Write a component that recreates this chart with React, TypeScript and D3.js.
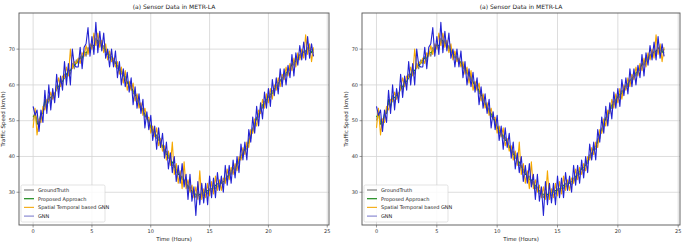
import React from "react";
import * as d3 from "d3";

// time step: 10 minutes, 6 points per hour
const STEP_HOURS = 1 / 6;

const groundTruth = [
  50, 52.5, 50, 48.5, 51, 53,
  55, 53.5, 57, 55, 58, 56.5,
  60, 58.5, 61.5, 60, 63, 62,
  64.5, 63, 66, 64.5, 67, 66,
  68, 66.5, 69.5, 68, 70.5, 69,
  71.5, 70, 73, 71.5, 72.5, 70.5,
  71, 69, 69.5, 67.5, 68, 66,
  66.5, 64.5, 65, 63, 63.5, 61.5,
  61, 59.5, 60, 57.5, 58, 56,
  55, 53, 53.5, 51, 51.5, 49,
  48.5, 46.5, 47, 45, 45.5, 43.5,
  43, 41, 41.5, 39.5, 39.5, 37.5,
  37.5, 35.5, 36, 34, 34.5, 32.5,
  33, 31, 31.5, 29.5, 30.5, 28.5,
  30, 28.5, 30, 29, 31, 29.5,
  31, 30, 32, 31, 32.5, 31.5,
  33, 32, 34, 33.5, 35.5, 35,
  37, 36, 38.5, 38, 40.5, 40,
  42.5, 42, 45, 45, 48, 48.5,
  51, 51, 53.5, 53.5, 55.5, 55,
  57, 56.5, 58.5, 58, 60, 59.5,
  61.5, 61, 62.5, 62.5, 64.5, 64,
  66, 65.5, 67.5, 67, 68.5, 68,
  69.5, 68.5, 70.5, 69.5, 70, 69,
];

const proposed = [
  51, 52, 49, 49.5, 52, 52,
  56, 54, 56, 56.5, 57, 57.5,
  59, 59.5, 61, 61, 62, 63,
  64, 64, 65, 65.5, 66, 67,
  67.5, 67.5, 69, 69, 69.5, 70,
  71, 71, 72, 72.5, 71.5, 71.5,
  70, 70, 68.5, 68.5, 67, 67,
  66, 65.5, 64, 64, 62.5, 62.5,
  60.5, 60.5, 59, 58.5, 57, 57,
  54.5, 54, 52.5, 52, 50.5, 50,
  48, 47.5, 46, 46, 44.5, 44.5,
  42.5, 42, 40.5, 40.5, 38.5, 38.5,
  37, 36.5, 35, 35, 33.5, 33.5,
  32, 32, 30.5, 30.5, 29.5, 29.5,
  29, 29.5, 29, 30, 30, 30.5,
  30.5, 31, 31, 32, 31.5, 32.5,
  32.5, 33, 33, 34.5, 34.5, 36,
  36.5, 37, 37.5, 39, 39.5, 41,
  42, 43, 44, 46, 47, 49.5,
  50.5, 52, 52.5, 54.5, 54.5, 56,
  56.5, 57.5, 57.5, 59, 59, 60.5,
  61, 62, 62, 63.5, 63.5, 65,
  65.5, 66.5, 66.5, 68, 67.5, 69,
  69, 69.5, 70, 70.5, 69, 70,
];

const stgnn = [
  48, 53.5, 46, 50.5, 49.5, 54,
  53, 56, 55.5, 58, 56, 57.5,
  59, 62, 59.5, 62.5, 62, 65,
  62.5, 70, 64.5, 66.5, 66, 67.5,
  66, 69, 68, 71, 68.5, 71.5,
  70, 74.5, 71, 74.5, 70.5, 72.5,
  69, 71.5, 67, 69.5, 66.5, 67.5,
  65, 66.5, 63, 65, 60.5, 64,
  58.5, 61, 58.5, 60.5, 55.5, 57.5,
  53.5, 55, 51.5, 53.5, 50.5, 51,
  46.5, 48.5, 45.5, 48, 43, 45,
  41.5, 43, 39, 41.5, 37.5, 44,
  35, 38, 32.5, 36, 31, 38.5,
  31, 33.5, 30, 32, 28.5, 31.5,
  28, 36, 28, 31, 28.5, 32.5,
  29, 33, 29.5, 34.5, 30.5, 33.5,
  30.5, 34, 32.5, 36.5, 33.5, 37,
  35, 38, 36, 40, 39, 42.5,
  40.5, 44, 42.5, 47.5, 46.5, 50.5,
  48.5, 53, 52, 56, 53.5, 57.5,
  55, 59, 56, 60, 58.5, 62,
  59.5, 63, 61.5, 65, 62.5, 66,
  64, 67.5, 65, 69, 67, 70,
  67.5, 74, 68.5, 71.5, 66.5, 70.5,
];

const gnn = [
  54, 51.5, 53, 47, 53, 49.5,
  58.5, 52, 60, 53, 59, 55,
  63, 56.5, 62.5, 58.5, 66.5, 60,
  66, 60, 70, 65.5, 65, 65,
  70.5, 64.5, 70.5, 71.5, 76, 68,
  73.5, 68.5, 77.5, 69, 75, 69.5,
  74.5, 67.5, 70, 65, 70, 65,
  69.5, 62, 66.5, 60, 64.5, 59.5,
  63.5, 58, 62, 54.5, 59.5, 53.5,
  57.5, 52, 56, 48, 52.5, 47.5,
  51.5, 44.5, 48.5, 42, 48, 42.5,
  46.5, 39.5, 44, 36.5, 41, 35.5,
  40, 33, 37.5, 32.5, 38, 31.5,
  35, 28, 35, 27.5, 31.5, 23.5,
  33, 26.5, 32.5, 27, 32.5, 26.5,
  34.5, 28.5, 34, 28.5, 35.5, 30.5,
  34.5, 30, 37.5, 32, 37.5, 32.5,
  39, 34, 40, 35.5, 43.5, 39,
  44, 39, 47.5, 44, 51, 46.5,
  54, 48.5, 55, 50.5, 58, 53.5,
  59, 54, 61.5, 57, 62, 57.5,
  64.5, 59.5, 64.5, 60, 65.5, 62,
  68.5, 62.5, 69, 65.5, 71, 67,
  72, 67, 73.5, 67.5, 71.5, 68,
];

const seriesNames = ["GroundTruth", "Proposed Approach", "Spatial Temporal based GNN", "GNN"];
const seriesColors = ["#808080", "#1a8a1a", "#f5a800", "#2323d2"];
const legendColors = ["#808080", "#1a8a1a", "#f5b020", "#8a8ad2"];
const seriesData = [groundTruth, proposed, stgnn, gnn];

const xTicks = [0, 5, 10, 15, 20, 25];
const yTicks = [30, 40, 50, 60, 70];
const title = "(a) Sensor Data in METR-LA";
const xLabel = "Time (Hours)";
const yLabel = "Traffic Speed (km/h)";

const FONT = "DejaVu Sans, sans-serif";

function Panel({ left, top, width, height, ylabX }: { left: number; top: number; width: number; height: number; ylabX: number }) {
  const x = d3.scaleLinear().domain([-1.2, 25.15]).range([left, left + width]);
  const y = d3.scaleLinear().domain([20.85, 80.1]).range([top + height, top]);
  const line = d3
    .line<number>()
    .x((_, i) => x(i * STEP_HOURS))
    .y((d) => y(d));
  const cx = left + width / 2;
  const lgX = left + 2;
  const lgY = top + height - 40;
  return (
    <g>
      {xTicks.map((t) => (
        <line key={"gx" + t} x1={x(t)} x2={x(t)} y1={top} y2={top + height} stroke="#d4d4d4" strokeWidth={0.8} />
      ))}
      {yTicks.map((t) => (
        <line key={"gy" + t} x1={left} x2={left + width} y1={y(t)} y2={y(t)} stroke="#d4d4d4" strokeWidth={0.8} />
      ))}
      {seriesData.map((s, k) => (
        <path key={"s" + k} d={line(s) || ""} fill="none" stroke={seriesColors[k]} strokeWidth={1.1} strokeLinejoin="round" />
      ))}
      <rect x={left} y={top} width={width} height={height} fill="none" stroke="#555" strokeWidth={0.9} />
      {xTicks.map((t) => (
        <g key={"xt" + t}>
          <line x1={x(t)} x2={x(t)} y1={top + height} y2={top + height + 2.5} stroke="#555" strokeWidth={0.6} />
          <text x={x(t)} y={top + height + 8} fontSize={5} textAnchor="middle" fill="#333" fontFamily={FONT}>
            {t}
          </text>
        </g>
      ))}
      {yTicks.map((t) => (
        <g key={"yt" + t}>
          <line x1={left - 2.5} x2={left} y1={y(t)} y2={y(t)} stroke="#555" strokeWidth={0.6} />
          <text x={left - 4} y={y(t) + 1.8} fontSize={5} textAnchor="end" fill="#333" fontFamily={FONT}>
            {t}
          </text>
        </g>
      ))}
      <text x={cx} y={9} fontSize={6} textAnchor="middle" fill="#222" fontFamily={FONT}>
        {title}
      </text>
      <text x={cx} y={top + height + 16} fontSize={5.5} textAnchor="middle" fill="#222" fontFamily={FONT}>
        {xLabel}
      </text>
      <text
        x={ylabX}
        y={top + height / 2}
        fontSize={5.5}
        textAnchor="middle"
        fill="#222"
        fontFamily={FONT}
        transform={`rotate(-90 ${ylabX} ${top + height / 2})`}
      >
        {yLabel}
      </text>
      <rect x={lgX} y={lgY} width={84} height={37} fill="white" fillOpacity={0.85} stroke="#d0d0d0" strokeWidth={0.6} rx={1.5} />
      {seriesNames.map((n, k) => (
        <g key={"lg" + k}>
          <line x1={lgX + 3} x2={lgX + 13} y1={lgY + 5 + k * 8.7} y2={lgY + 5 + k * 8.7} stroke={legendColors[k]} strokeWidth={1.2} />
          <text x={lgX + 17} y={lgY + 6.8 + k * 8.7} fontSize={5} fill="#222" fontFamily={FONT}>
            {n}
          </text>
        </g>
      ))}
    </g>
  );
}

export default function App() {
  return (
    <svg width={685} height={246} style={{ position: "absolute", left: 0, top: 0, background: "white" }}>
      <rect x={0} y={0} width={685} height={246} fill="white" />
      <Panel left={19} top={13} width={310} height={212} ylabX={5} />
      <Panel left={362} top={13} width={318} height={212} ylabX={348} />
    </svg>
  );
}
